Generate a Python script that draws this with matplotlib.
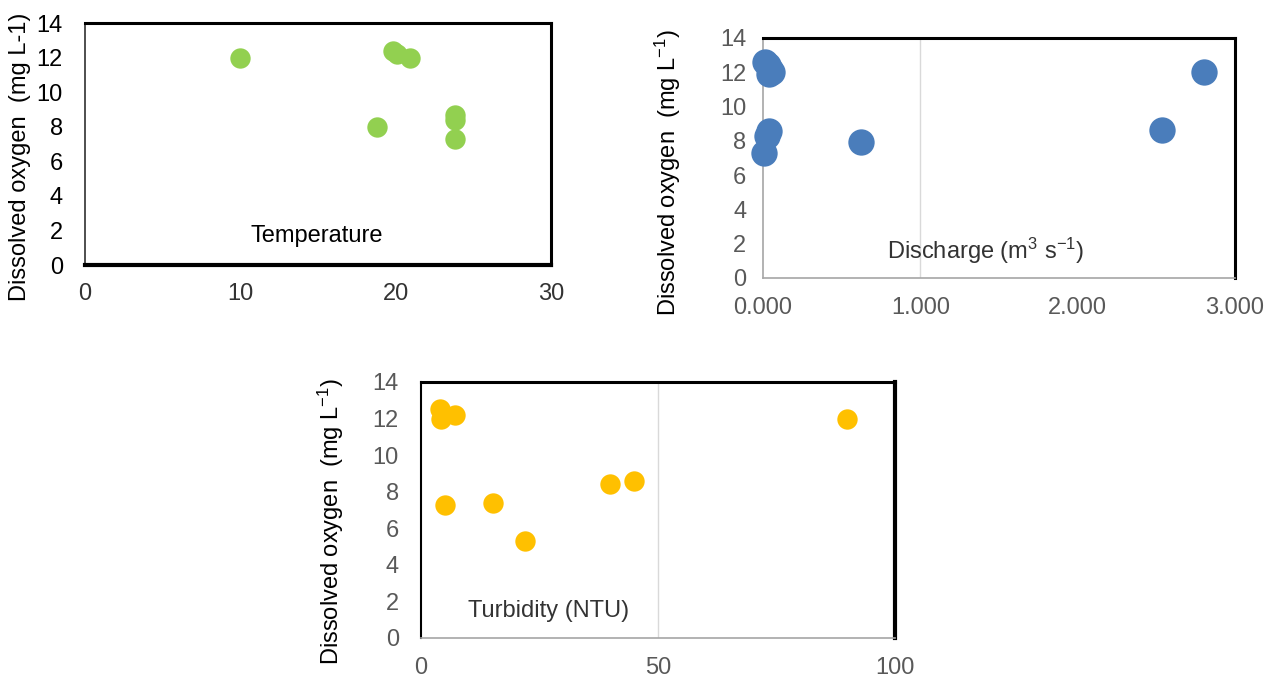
import matplotlib
matplotlib.use("Agg")
import matplotlib.pyplot as plt

plt.rcParams['font.family'] = ['Liberation Sans', 'DejaVu Sans']
plt.rcParams['mathtext.fontset'] = 'custom'
plt.rcParams['mathtext.rm'] = 'Liberation Sans'
plt.rcParams['mathtext.it'] = 'Liberation Sans'

# Temperature panel
tempX = [10, 19.8, 20.1, 20.9, 18.8, 23.8, 23.8, 23.8]
tempDO = [12.0, 12.4, 12.2, 11.95, 8.0, 8.7, 8.4, 7.3]

# Discharge panel (m3 s-1)
dischargeX = [15, 30, 45, 55, 40, 35, 25, 5, 620, 2535, 2805]
dischargeDO = [12.6, 12.4, 12.2, 12.0, 11.9, 8.6, 8.3, 7.3, 7.95, 8.65, 12.0]

# Turbidity panel (NTU)
turbX = [4.0, 4.2, 7.1, 5.0, 15.1, 22.0, 39.8, 44.9, 89.9]
turbDO = [12.5, 12.0, 12.2, 7.3, 7.4, 5.3, 8.4, 8.6, 12.0]

GREEN = '#92d050'
BLUE = '#4a7dbb'
ORANGE = '#ffc000'
GREY_TEXT = '#595959'

W, H = 1282, 682
fig = plt.figure(figsize=(W / 100, H / 100), dpi=100)


def makeAx(left, top, right, bottom):
    # pixel box -> figure fraction
    return fig.add_axes([left / W, (H - bottom) / H, (right - left) / W, (bottom - top) / H])


def styleAx(ax, xmax, xticks, yColor, xColor, ypad, xpad):
    ax.set_ylim(0, 14)
    ax.set_yticks(range(0, 15, 2))
    ax.set_xlim(0, xmax)
    ax.set_xticks(xticks)
    ax.tick_params(axis='both', length=0, labelsize=17)
    ax.tick_params(axis='y', colors=yColor, pad=ypad)
    ax.tick_params(axis='x', colors=xColor, pad=xpad)


# ---- Temperature ----
ax1 = makeAx(85, 23, 551, 265)
ax1.scatter(tempX, tempDO, s=215, color=GREEN, zorder=3, linewidths=0, clip_on=False)
styleAx(ax1, 30, [0, 10, 20, 30], 'black', '#333333', 16, 13)
for side in ['top', 'right']:
    ax1.spines[side].set_linewidth(2.2)
ax1.spines['bottom'].set_linewidth(3)
ax1.spines['left'].set_linewidth(1.3)
ax1.spines['left'].set_color('#404040')
ax1.text(14.9, 1.7, 'Temperature', fontsize=17, ha='center', va='center')
fig.text(20 / W, 1 - 157 / H, 'Dissolved oxygen  (mg L-1)', rotation=90,
         fontsize=17, ha='center', va='center')

# ---- Discharge ----
ax2 = makeAx(763, 38, 1235, 278)
ax2.axvline(1000, color='#d9d9d9', lw=1, zorder=1)
ax2.scatter(dischargeX, dischargeDO, s=360, color=BLUE, zorder=3, linewidths=0, clip_on=False)
styleAx(ax2, 3000, [0, 1000, 2000, 3000], GREY_TEXT, GREY_TEXT, 12, 14)
ax2.set_xticklabels(['0.000', '1.000', '2.000', '3.000'])
for side in ['top', 'right']:
    ax2.spines[side].set_linewidth(2.2)
for side in ['left', 'bottom']:
    ax2.spines[side].set_linewidth(1.2)
    ax2.spines[side].set_color('#a6a6a6')
ax2.text(1417, 1.6, r'Discharge (m$^3$ s$^{-1}$)', fontsize=17, ha='center', va='center',
         color='#333333')
fig.text(668 / W, 1 - 173 / H, r'Dissolved oxygen  (mg L$^{-1}$)', rotation=90,
         fontsize=17, ha='center', va='center')

# ---- Turbidity ----
ax3 = makeAx(421, 382, 895, 638)
ax3.axvline(50, color='#d9d9d9', lw=1, zorder=1)
ax3.scatter(turbX, turbDO, s=215, color=ORANGE, zorder=3, linewidths=0, clip_on=False)
styleAx(ax3, 100, [0, 50, 100], GREY_TEXT, GREY_TEXT, 16, 14)
ax3.spines['top'].set_linewidth(2.2)
ax3.spines['right'].set_linewidth(3)
ax3.spines['left'].set_linewidth(1.5)
ax3.spines['bottom'].set_linewidth(1.2)
ax3.spines['bottom'].set_color('#a6a6a6')
ax3.text(27, 1.5, 'Turbidity (NTU)', fontsize=17, ha='center', va='center', color='#333333')
fig.text(331 / W, 1 - 522 / H, r'Dissolved oxygen  (mg L$^{-1}$)', rotation=90,
         fontsize=17, ha='center', va='center')

fig.savefig('out.png', dpi=100)
